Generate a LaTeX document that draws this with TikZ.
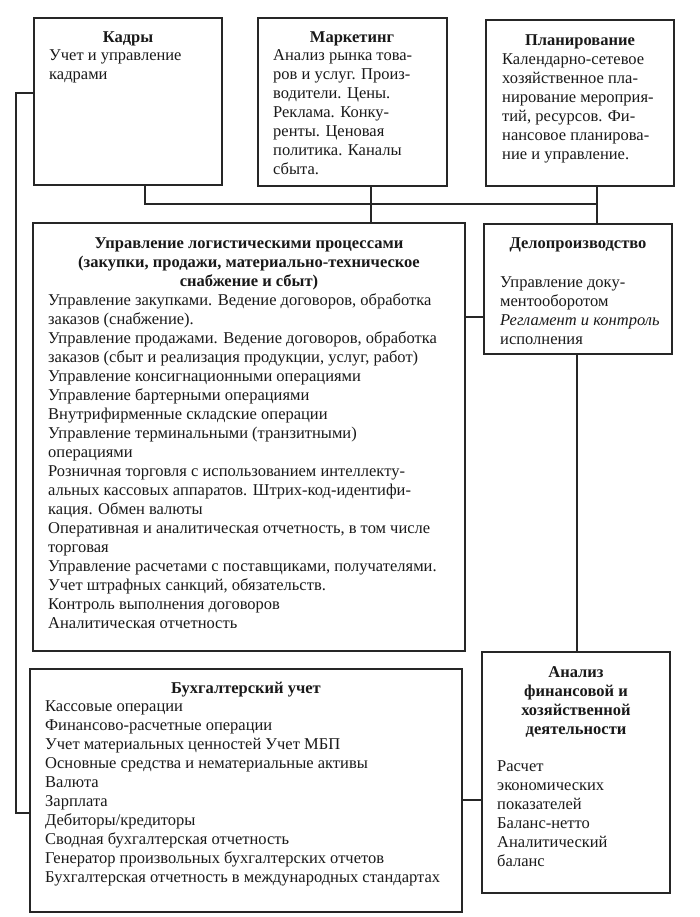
\documentclass[tikz,border=0pt]{standalone}
\usepackage{fontspec}
\setmainfont{Liberation Serif}
\begin{document}
\begin{tikzpicture}[x=1pt,y=-1pt,
  box/.style={draw=black!85, line width=1.1pt, anchor=north west, inner sep=0pt, outer sep=0pt},
  conn/.style={draw=black!85, line width=1.1pt},
  ttl/.style={font=\fontsize{16.5}{19}\selectfont\bfseries, align=center, anchor=north, inner sep=0pt, text=black!90},
  body/.style={font=\fontsize{16.5}{19}\selectfont, align=left, anchor=north west, inner sep=0pt, text=black!90}]
\useasboundingbox[fill=white] (0,0) rectangle (699,917);

% boxes
\node[box, minimum width=188pt, minimum height=167pt] (kadry) at (34,18) {};
\node[box, minimum width=189pt, minimum height=168pt] (mark) at (258,18) {};
\node[box, minimum width=188pt, minimum height=166pt] (plan) at (486,20) {};
\node[box, minimum width=432pt, minimum height=428pt] (logi) at (33,223) {};
\node[box, minimum width=188pt, minimum height=130pt] (delo) at (484,224) {};
\node[box, minimum width=432pt, minimum height=243pt] (bukh) at (30,669) {};
\node[box, minimum width=188pt, minimum height=241pt] (anal) at (482,652) {};

% texts
\node[ttl] (kadryT) at (128,29) {\strut Кадры};
\node[body] (kadryB) at (49,47) {\strut Учет и управление\\кадрами};

\node[ttl] (markT) at (352,29) {\strut Маркетинг};
\node[body] (markB) at (273,47) {\strut Анализ рынка това-\\ров и услуг. Произ-\\водители. Цены.\\Реклама. Конку-\\ренты. Ценовая\\политика. Каналы\\сбыта.};

\node[ttl] (planT) at (580,32) {\strut Планирование};
\node[body] (planB) at (502,51) {\strut Календарно-сетевое\\хозяйственное пла-\\нирование мероприя-\\тий, ресурсов. Фи-\\нансовое планирова-\\ние и управление.};

\node[ttl] (logiT) at (249,235) {\strut Управление логистическими процессами\\(закупки, продажи, материально-техническое\\снабжение и сбыт)};
\node[body] (logiB) at (48,292) {\strut Управление закупками. Ведение договоров, обработка\\заказов (снабжение).\\Управление продажами. Ведение договоров, обработка\\заказов (сбыт и реализация продукции, услуг, работ)\\Управление консигнационными операциями\\Управление бартерными операциями\\Внутрифирменные складские операции\\Управление терминальными (транзитными)\\операциями\\Розничная торговля с использованием интеллекту-\\альных кассовых аппаратов. Штрих-код-идентифи-\\кация. Обмен валюты\\Оперативная и аналитическая отчетность, в том числе\\торговая\\Управление расчетами с поставщиками, получателями.\\Учет штрафных санкций, обязательств.\\Контроль выполнения договоров\\Аналитическая отчетность};

\node[ttl] (deloT) at (578,235) {\strut Делопроизводство};
\node[body] (deloB) at (500,274) {\strut Управление доку-\\ментооборотом\\\textit{Регламент и контроль}\\исполнения};

\node[ttl] (bukhT) at (246,680) {\strut Бухгалтерский учет};
\node[body] (bukhB) at (45,698) {\strut Кассовые операции\\Финансово-расчетные операции\\Учет материальных ценностей Учет МБП\\Основные средства и нематериальные активы\\Валюта\\Зарплата\\Дебиторы/кредиторы\\Сводная бухгалтерская отчетность\\Генератор произвольных бухгалтерских отчетов\\Бухгалтерская отчетность в международных стандартах};

\node[ttl] (analT) at (576,664) {\strut Анализ\\финансовой и\\хозяйственной\\деятельности};
\node[body] (analB) at (497,758) {\strut Расчет\\экономических\\показателей\\Баланс-нетто\\Аналитический\\баланс};

% connectors
\coordinate (busL) at (145,204);
\coordinate (busR) at (597,204);
\draw[conn] (kadry.south -| busL) -- (busL) -- (busR);
\draw[conn] (plan.south -| busR) -- (delo.north -| busR);
\coordinate (mx) at (371,204);
\draw[conn] (mark.south -| mx) -- (logi.north -| mx);
\coordinate (lk1) at (16,93);
\coordinate (lk2) at (16,813);
\draw[conn] (kadry.west |- lk1) -- (lk1) -- (lk2) -- (bukh.west |- lk2);
\coordinate (ld) at (474,317);
\draw[conn] (logi.east |- ld) -- (delo.west |- ld);
\coordinate (da) at (577,500);
\draw[conn] (delo.south -| da) -- (anal.north -| da);
\coordinate (ba) at (472,800);
\draw[conn] (bukh.east |- ba) -- (anal.west |- ba);
\end{tikzpicture}
\end{document}
